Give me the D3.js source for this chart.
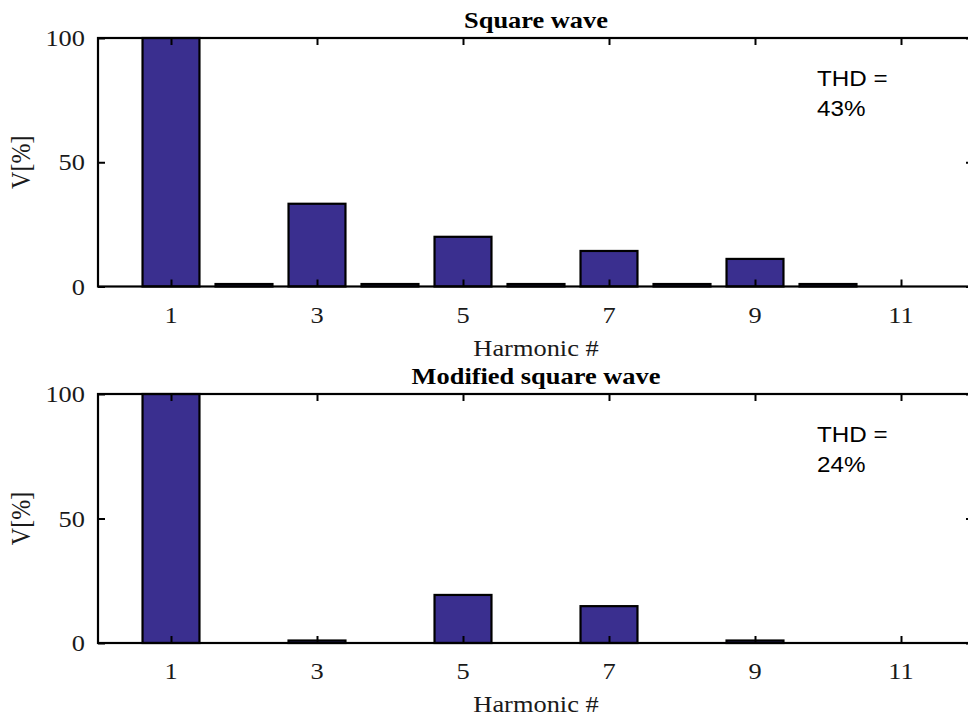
<!DOCTYPE html>
<html>
<head>
<meta charset="utf-8">
<script src="https://cdn.jsdelivr.net/npm/d3@7/dist/d3.min.js"></script>
<style>
  html, body { margin: 0; padding: 0; background: #fff; }
  svg { display: block; }
</style>
</head>
<body>
<svg id="chart" width="968" height="719"></svg>
<script>
// Data
const harmonics = [1, 2, 3, 4, 5, 6, 7, 8, 9, 10];
const squareWave = [100, 1, 33.3, 1, 20, 1, 14.3, 1, 11.1, 1];
const modifiedSquareWave = [100, 0, 1, 0, 19.3, 0, 14.8, 0, 1, 0];
const xTicks = [1, 3, 5, 7, 9, 11];
const yTicks = [0, 50, 100];
const titles = ["Square wave", "Modified square wave"];
const thdLabels = ["43%", "24%"];

const svg = d3.select("#chart");
const serif = "'Liberation Serif', 'Times New Roman', serif";
const sans = "'Liberation Sans', Arial, sans-serif";
const barColor = "#3a2f8f";
const SX = 1.1; // horizontal stretch of the reference's text

function label(parent, x, y, txt, opts) {
  const g = parent.append("g").attr("transform", `translate(${x},${y}) ${opts.rotate ? "rotate(-90)" : ""} scale(${opts.rotate ? 1 : SX},${opts.rotate ? SX : 1})`);
  g.append("text")
    .attr("text-anchor", opts.anchor || "middle")
    .attr("dominant-baseline", "central")
    .attr("font-family", opts.family || serif)
    .attr("font-size", opts.size || 24)
    .attr("font-weight", opts.weight || "normal")
    .attr("fill", opts.fill || "#1a1a1a")
    .text(txt);
  return g;
}

const panels = [
  { top: 38, bottom: 286.5, values: squareWave, title: titles[0], thd: thdLabels[0] },
  { top: 394, bottom: 643, values: modifiedSquareWave, title: titles[1], thd: thdLabels[1] }
];

const left = 98, right = 974;

panels.forEach(p => {
  const x = d3.scaleLinear().domain([0, 12]).range([left, right]);
  const y = d3.scaleLinear().domain([0, 100]).range([p.bottom, p.top]);
  const g = svg.append("g");
  const unit = x(1) - x(0);
  const bw = 0.78 * unit;

  // bars
  g.selectAll("rect.bar").data(harmonics.map((h, i) => ({ h, v: p.values[i] })).filter(d => d.v > 0))
    .enter().append("rect")
    .attr("class", "bar")
    .attr("x", d => x(d.h) - bw / 2)
    .attr("width", bw)
    .attr("y", d => y(d.v))
    .attr("height", d => y(0) - y(d.v))
    .attr("fill", barColor)
    .attr("stroke", "#000")
    .attr("stroke-width", 2.2);

  // bottom axis (ticks inward)
  const xb = d3.axisBottom(x).tickValues(xTicks).tickSize(-7).tickFormat("");
  const gx = g.append("g").attr("transform", `translate(0,${p.bottom})`).call(xb);
  gx.select(".domain").remove();
  gx.selectAll(".tick line").attr("stroke", "#000").attr("stroke-width", 2);
  xTicks.forEach(t => label(g, x(t), p.bottom + 28, d3.format("d")(t), {}));

  // top axis ticks mirrored
  const xt = d3.axisTop(x).tickValues(xTicks).tickSize(-7).tickFormat("");
  const gxt = g.append("g").attr("transform", `translate(0,${p.top})`).call(xt);
  gxt.select(".domain").remove();
  gxt.selectAll(".tick line").attr("stroke", "#000").attr("stroke-width", 2);

  // left axis
  const yl = d3.axisLeft(y).tickValues(yTicks).tickSize(-7).tickFormat("");
  const gy = g.append("g").attr("transform", `translate(${left},0)`).call(yl);
  gy.select(".domain").remove();
  gy.selectAll(".tick line").attr("stroke", "#000").attr("stroke-width", 2);
  yTicks.forEach(t => label(g, left - 13, y(t), String(t), { anchor: "end" }));

  // right axis ticks mirrored
  const yr = d3.axisRight(y).tickValues(yTicks).tickSize(-7).tickFormat("");
  const gyr = g.append("g").attr("transform", `translate(${right - 1},0)`).call(yr);
  gyr.select(".domain").remove();
  gyr.selectAll(".tick line").attr("stroke", "#000").attr("stroke-width", 2);

  // box
  g.append("rect")
    .attr("x", left).attr("y", p.top)
    .attr("width", right - left).attr("height", p.bottom - p.top)
    .attr("fill", "none").attr("stroke", "#000").attr("stroke-width", 2.2);

  // title
  label(g, (left + right) / 2, p.top - 18, p.title, { weight: "bold", fill: "#000" });

  // x label
  label(g, (left + right) / 2, p.bottom + 61, "Harmonic #", {});

  // y label
  label(g, 21, (p.top + p.bottom) / 2, "V[%]", { rotate: true });

  // THD annotation
  label(g, 817, p.top + 40, "THD =", { anchor: "start", family: sans, size: 22, fill: "#000" });
  label(g, 817, p.top + 70, p.thd, { anchor: "start", family: sans, size: 22, fill: "#000" });
});
</script>
</body>
</html>
